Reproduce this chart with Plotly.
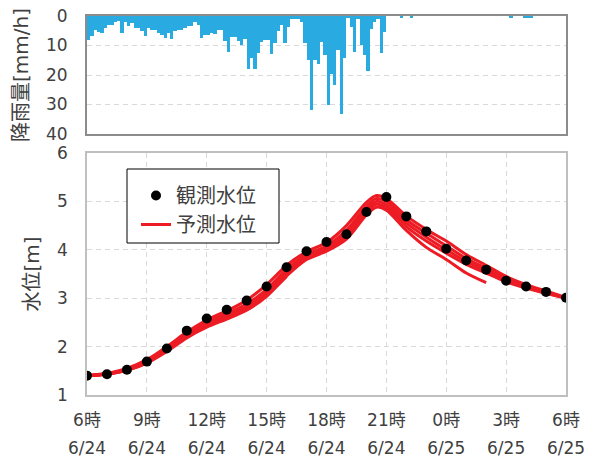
import plotly.graph_objects as go

# ---- data -------------------------------------------------------------
# time axis: hours elapsed since 6/24 6:00
tick_hours = [0, 3, 6, 9, 12, 15, 18, 21, 24]
tick_clock = ["6時", "9時", "12時", "15時", "18時", "21時", "0時", "3時", "6時"]
tick_dates = ["6/24", "6/24", "6/24", "6/24", "6/24", "6/24", "6/25", "6/25", "6/25"]

# 10-minute rainfall intensity [mm/h], starting 6/24 6:00
rain_10min = [
    8.2, 6.7, 4.8, 5.3, 5.9, 3.9, 3.1, 3.1, 1.9, 1.6, 5.6, 1.9,
    3.4, 2.5, 4.2, 4.2, 5.0, 6.8, 3.9, 4.8, 4.8, 5.9, 6.4, 7.3,
    5.9, 7.9, 5.0, 4.6, 4.6, 3.9, 3.4, 3.4, 1.9, 3.1, 7.3, 6.4,
    6.4, 5.6, 6.1, 4.6, 4.6, 8.4, 12.1, 7.0, 7.0, 8.4, 9.9, 7.9,
    17.8, 14.1, 18.1, 12.7, 8.7, 8.2, 8.2, 13.0, 9.3, 5.0, 3.1, 9.3,
    3.6, 1.1, 1.1, 1.1, 1.9, 9.3, 15.0, 32.0, 15.0, 16.3, 8.7, 13.3,
    30.3, 19.5, 23.5, 11.6, 33.1, 14.4, 0.8, 3.6, 12.1, 1.1, 9.9, 13.3,
    18.6, 4.5, 1.9, 1.1, 12.7, 5.3, 0.0, 0.0, 0.0, 0.0, 0.5, 0.0,
    0.0, 0.4, 0.0, 0.0, 0.0, 0.0, 0.0, 0.0, 0.0, 0.0, 0.0, 0.0,
    0.0, 0.0, 0.0, 0.0, 0.0, 0.0, 0.0, 0.0, 0.0, 0.0, 0.0, 0.0,
    0.0, 0.0, 0.0, 0.0, 0.0, 0.0, 0.0, 0.7, 0.0, 0.0, 0.0, 0.4,
    0.5, 0.4, 0.0, 0.0, 0.0, 0.0, 0.0, 0.0, 0.0, 0.0, 0.0, 0.0,
]

# hourly observed water level [m]
obs_hours = list(range(0, 25))
obs_level = [1.40, 1.43, 1.52, 1.69, 1.96, 2.33, 2.58, 2.76, 2.95, 3.24,
             3.64, 3.97, 4.16, 4.32, 4.78, 5.09, 4.69, 4.38, 4.02, 3.78,
             3.59, 3.36, 3.24, 3.13, 3.01]

# forecast runs of the water level [m]
fc_hours = [0, 1, 2, 3, 4, 5, 6, 7, 8, 9, 10, 11, 12, 13, 14, 14.5,
            15, 16, 17, 18, 19, 20, 21, 22, 23, 24]
fc_run1 = [1.40, 1.45, 1.55, 1.73, 2.00, 2.30, 2.55, 2.74, 2.96, 3.28, 3.68, 3.96, 4.15,
           4.50, 4.98, 5.12, 5.06, 4.70, 4.42, 4.18, 3.90, 3.68, 3.45, 3.28, 3.15, 3.01]
fc_run2 = [1.40, 1.44, 1.53, 1.70, 1.97, 2.26, 2.50, 2.68, 2.88, 3.18, 3.60, 3.90, 4.08,
           4.40, 4.90, 5.06, 5.00, 4.62, 4.34, 4.08, 3.82, 3.62, 3.40, 3.25, 3.12, 3.00]
fc_run3 = [1.40, 1.44, 1.52, 1.68, 1.94, 2.22, 2.46, 2.63, 2.82, 3.12, 3.55, 3.86, 4.03,
           4.33, 4.84, 5.00, 4.93, 4.55, 4.26, 4.00, 3.76, 3.57, 3.37, 3.23, 3.11, 3.00]
fc_run4 = [1.40, 1.43, 1.51, 1.67, 1.92, 2.20, 2.43, 2.60, 2.78, 3.08, 3.50, 3.84, 4.00,
           4.28, 4.78, 4.94, 4.88, 4.48, 4.18, 3.93, 3.70, 3.52, 3.34, 3.21, 3.10, 3.00]
fc_run5 = [1.40, 1.43, 1.51, 1.66, 1.90, 2.18, 2.40, 2.57, 2.75, 3.04, 3.46, 3.80, 3.97,
           4.22, 4.72, 4.88, 4.82, 4.40, 4.05, 3.80, 3.52, 3.32]
fc_run6 = [1.40, 1.44, 1.53, 1.70, 1.96, 2.22, 2.44, 2.60, 2.78, 3.06, 3.45]
fc_runs = [fc_run1, fc_run2, fc_run3, fc_run4, fc_run5, fc_run6]

# ---- style ------------------------------------------------------------
FONT = "DejaVu Sans, Noto Sans CJK JP, sans-serif"
TXT = "#404040"
RAIN = "#29ABE2"
RED = "#ED1C24"
GRID = "#d9d9d9"

W, H = 595, 461
L, R, T, B = 87, 29, 16, 66
ph = H - T - B


def py(px):
    """paper y coordinate of a pixel row"""
    return (H - B - px) / ph


def pxx(px):
    return (px - L) / (W - L - R)


fig = go.Figure()

rain_x = [i / 6 + 1 / 12 for i in range(len(rain_10min))]
fig.add_trace(go.Bar(x=rain_x, y=rain_10min, width=1 / 6, marker=dict(color=RAIN, line=dict(width=0)),
                     xaxis="x", yaxis="y", showlegend=False, hoverinfo="skip"))

for k, run in enumerate(fc_runs):
    fig.add_trace(go.Scatter(x=fc_hours[:len(run)], y=run, mode="lines",
                             line=dict(color=RED, width=3, shape="spline", smoothing=0.8),
                             xaxis="x2", yaxis="y2", name="予測水位", legendgroup="fc",
                             showlegend=(k == 0), legendrank=2))

fig.add_trace(go.Scatter(x=obs_hours, y=obs_level, mode="markers",
                         marker=dict(color="black", size=10),
                         xaxis="x2", yaxis="y2", name="観測水位", legendrank=1))

# carrier for the date row of the time axis
fig.add_trace(go.Scatter(x=[], y=[], xaxis="x3", yaxis="y2", showlegend=False))

frame_top = dict(showline=True, mirror=True, linecolor="#8c8c8c", linewidth=2)
frame_bot = dict(showline=True, mirror=True, linecolor="#bfbfbf", linewidth=1.5)
tickfont = dict(family=FONT, size=17, color=TXT)
titlefont = dict(family=FONT, size=20, color=TXT)

fig.update_layout(
    width=W, height=H,
    margin=dict(l=L, r=R, t=T, b=B, autoexpand=False),
    paper_bgcolor="white", plot_bgcolor="white",
    bargap=0,
    font=dict(family=FONT, color=TXT),
    xaxis=dict(domain=[0, 1], anchor="y", range=[0, 24], showticklabels=False,
               showgrid=False, zeroline=False, ticks="", automargin=False, **frame_top),
    yaxis=dict(domain=[py(134), 1], anchor="x", range=[40, 0], tickvals=[0, 10, 20, 30, 40],
               showgrid=True, gridcolor=GRID, griddash="5px,4px", gridwidth=1,
               zeroline=False, ticks="", ticklabelstandoff=14, tickfont=tickfont, automargin=False,
               title=dict(text="降雨量[mm/h]", font=titlefont, standoff=12), **frame_top),
    xaxis2=dict(domain=[0, 1], anchor="y2", range=[0, 24], tickvals=tick_hours, ticktext=tick_clock,
                showgrid=True, gridcolor=GRID, griddash="5px,4px", gridwidth=1, automargin=False,
                zeroline=False, ticks="", ticklabelstandoff=9, tickfont=tickfont, **frame_bot),
    xaxis3=dict(overlaying="x2", anchor="y2", side="bottom", range=[0, 24], automargin=False,
                tickvals=tick_hours, ticktext=tick_dates, showgrid=False, zeroline=False,
                showline=False, ticks="", ticklabelstandoff=41, tickfont=tickfont),
    yaxis2=dict(domain=[0, py(153)], anchor="x2", range=[1, 6], tickvals=[1, 2, 3, 4, 5, 6],
                showgrid=True, gridcolor=GRID, griddash="5px,4px", gridwidth=1, automargin=False,
                zeroline=False, ticks="", ticklabelstandoff=14, tickfont=tickfont,
                title=dict(text="水位[m]", font=titlefont, standoff=12), **frame_bot),
    legend=dict(x=pxx(136), y=py(176), xanchor="left", yanchor="top",
                bgcolor="rgba(0,0,0,0)", borderwidth=0, tracegroupgap=0,
                font=dict(family=FONT, size=20, color=TXT)),
    shapes=[dict(type="rect", xref="paper", yref="paper",
                 x0=pxx(127), x1=pxx(279), y0=py(243), y1=py(169),
                 line=dict(color="black", width=1), fillcolor="white", layer="above")],
)

fig.write_html("out.html")
